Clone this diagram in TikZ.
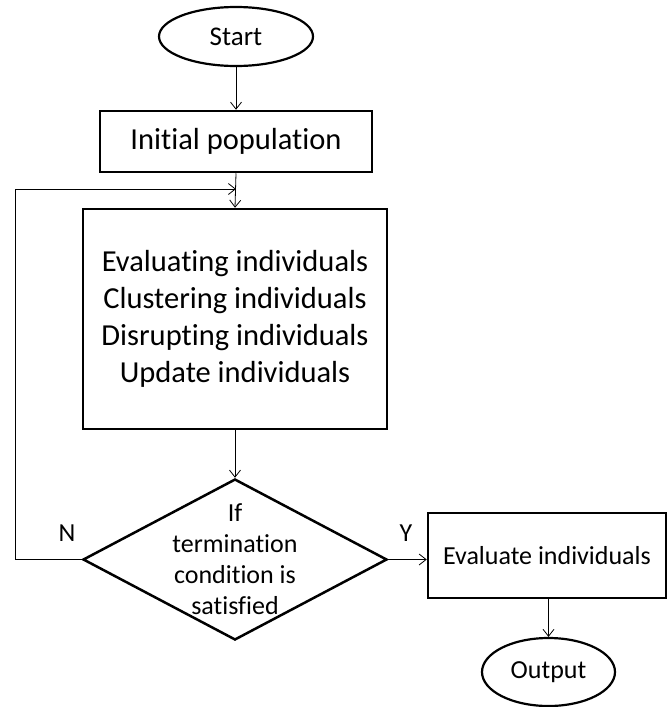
\documentclass[tikz,border=0pt]{standalone}
\usepackage{fontspec}
\setmainfont{Carlito}[Ligatures=NoCommon]
\usetikzlibrary{shapes.geometric,arrows.meta}
\begin{document}
\begin{tikzpicture}[x=1pt,y=-1pt,
  box/.style={draw=black,line width=2.5pt,rectangle,inner sep=0pt,align=center},
  oval/.style={draw=black,line width=2.2pt,ellipse,inner sep=0pt},
  decision/.style={draw=black,line width=2.5pt,diamond,inner sep=0pt},
  conn/.style={draw=black,line width=0.8pt,-{Straight Barb[length=7pt,width=11pt]}},
  big/.style={font=\fontsize{30.5}{36.8}\selectfont},
  small/.style={font=\fontsize{26}{31}\selectfont},
  lbl/.style={font=\fontsize{26}{31}\selectfont,inner sep=0pt}]
\useasboundingbox (0,0) rectangle (671,707);
\node[oval,minimum width=154pt,minimum height=59pt,font=\fontsize{27}{32}\selectfont] (start) at (236,36.5) {Start};
\node[box,minimum width=272pt,minimum height=61pt,big] (init) at (236,141.5) {Initial population};
\node[box,minimum width=304pt,minimum height=220pt,big] (main) at (235,319)
  {Evaluating individuals\\Clustering individuals\\Disrupting individuals\\Update individuals};
\node[decision,minimum width=304pt,minimum height=161pt] (dia) at (235,559.5) {};
\node[small,align=center,inner sep=0pt] (diatext) at (235,559) {If\\termination\\condition is\\satisfied};
\node[box,minimum width=238pt,minimum height=85pt,small] (eval) at (547,555.5) {Evaluate individuals};
\node[oval,minimum width=133pt,minimum height=68pt,small] (out) at (548.5,672) {Output};
\node[lbl] (nlab) at (67,533) {N};
\node[lbl] (ylab) at (406,533) {Y};
\coordinate (merge) at (236,189);
\coordinate (loopL) at (15,559.5);
\coordinate (loopT) at (15,189);
\draw[conn] (start.south) -- (init.north);
\draw[conn] (init.south) -- (main.north);
\draw[conn] (main.south) -- (dia.north);
\draw[conn] (dia.west) -- (loopL) -- (loopT) -- (merge);
\draw[conn] (dia.east) -- (dia.east -| eval.west);
\draw[conn] (eval.south -| out.north) -- (out.north);
\end{tikzpicture}
\end{document}
